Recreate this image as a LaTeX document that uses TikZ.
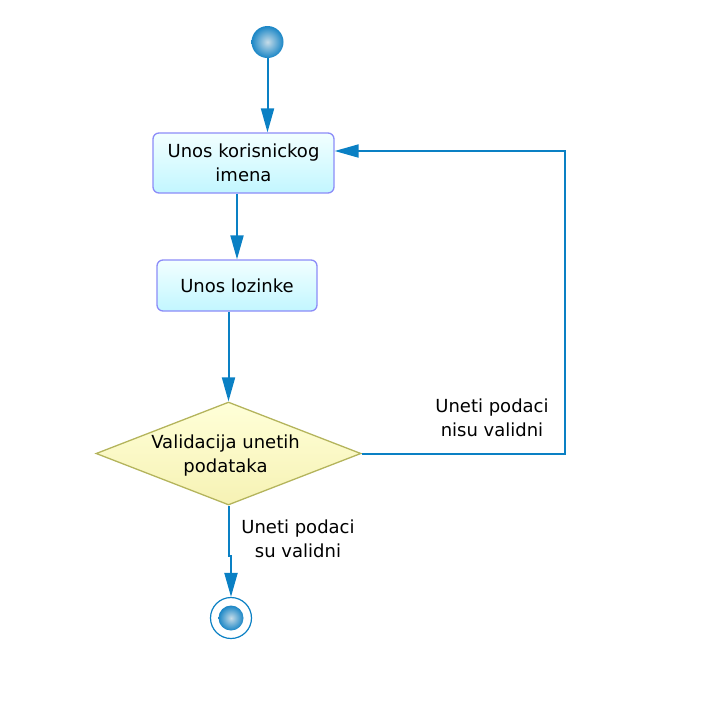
\documentclass[tikz,border=0pt]{standalone}
\usepackage{fontspec}
\setmainfont{DejaVu Sans}
\usetikzlibrary{shapes.geometric,arrows.meta}
\definecolor{flow}{HTML}{0A80C4}
\definecolor{boxline}{HTML}{8C8CF8}
\definecolor{boxtop}{HTML}{F2FFFF}
\definecolor{boxbot}{HTML}{C2F6FF}
\definecolor{dialine}{HTML}{B4B45C}
\definecolor{diatop}{HTML}{FFFFD8}
\definecolor{diabot}{HTML}{F6F2B4}
\definecolor{dotin}{HTML}{C6DCE8}
\definecolor{dotout}{HTML}{1A86C6}
\tikzset{
  txt/.style={font=\fontsize{18}{24.5}\selectfont, align=center, text=black},
  actbox/.style={draw=boxline, line width=1.3pt, rounded corners=6pt, top color=boxtop, bottom color=boxbot, txt, inner sep=0pt},
  dia/.style={diamond, draw=dialine, line width=1.3pt, top color=diatop, bottom color=diabot, inner sep=0pt, minimum width=265pt, minimum height=103pt},
  dot/.style={circle, inner color=dotin, outer color=dotout, draw=none, inner sep=0pt},
  ring/.style={circle, draw=flow, line width=1.2pt, fill=white, inner sep=0pt, minimum size=41pt},
  flowline/.style={draw=flow, line width=2pt, -{Triangle[length=24pt,width=13pt]}},
}
\begin{document}
\begin{tikzpicture}[x=1pt,y=-1pt]
\useasboundingbox (0,0) rectangle (720,710);
\node[dot, minimum size=32pt] (start) at (267.5,42) {};
\node[actbox, minimum width=181pt, minimum height=60pt] (b1) at (243.5,163) {Unos korisnickog\\imena};
\node[actbox, minimum width=160pt, minimum height=51pt] (b2) at (237,285.5) {Unos lozinke};
\node[dia, label={[txt, yshift=-2pt, xshift=-3pt]center:Validacija unetih\\podataka}] (d) at (228.5,453.5) {};
\node[ring] (final) at (231,618) {};
\node[dot, minimum size=25pt] (finaldot) at (final) {};
\coordinate (loop) at (565,151);
\node[txt] (lab1) at (492,418) {Uneti podaci\\nisu validni};
\node[txt] (lab2) at (298,539) {Uneti podaci\\su validni};

\draw[flowline] (start.south) -- (start.south |- b1.north);
\draw[flowline] (b2.north |- b1.south) -- (b2.north);
\draw[flowline] (d.north |- b2.south) -- (d.north);
\draw[flowline] (d.east) -| (loop) -- (loop -| b1.east);
\draw[flowline] (d.south) -- ++(0,50) -| (final.north);
\end{tikzpicture}
\end{document}
